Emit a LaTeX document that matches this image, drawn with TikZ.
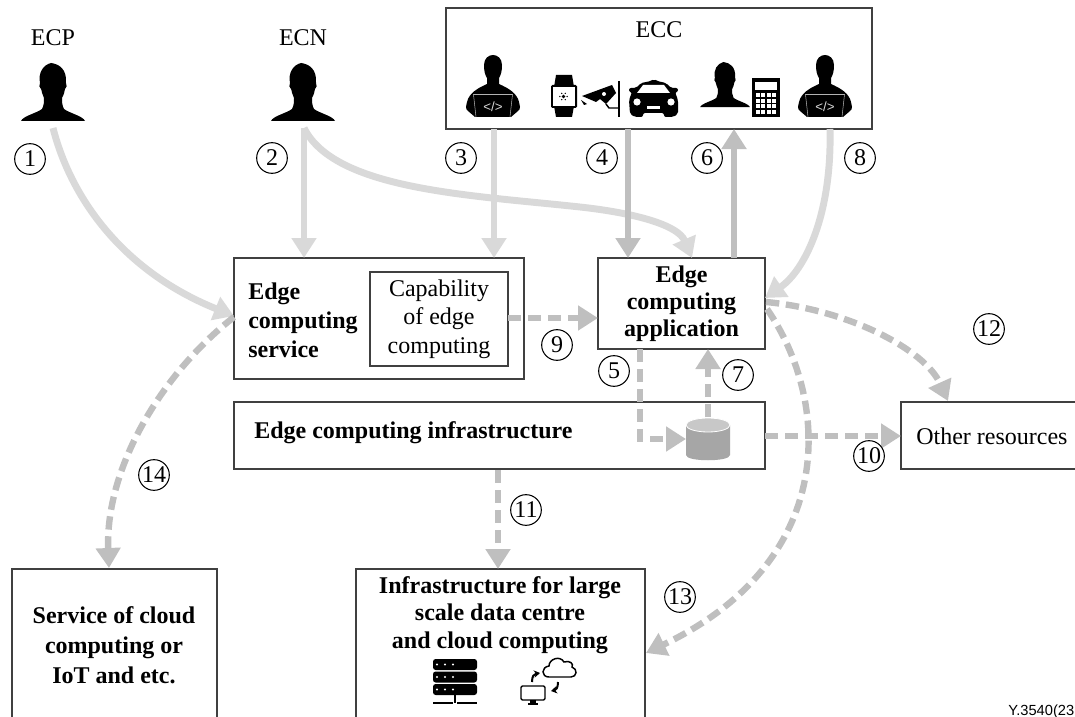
\documentclass[tikz,border=0pt]{standalone}
\usepackage{fontspec}
\setmainfont{Liberation Serif}
\newfontfamily\arialfont{Liberation Sans}
\usetikzlibrary{arrows.meta}
\definecolor{lightg}{HTML}{D9D9D9}
\definecolor{darkg}{HTML}{BFBFBF}
\definecolor{boxline}{HTML}{404040}
\tikzset{
  x=0.75pt,y=-0.75pt,
  box/.style={draw=boxline,line width=1.4pt,fill=white,inner sep=0pt,outer sep=0pt,anchor=north west},
  lab/.style={font=\fontsize{18}{21.5}\selectfont,inner sep=0pt,align=center},
  blab/.style={lab,font=\fontsize{18}{20.6}\selectfont\bfseries},
  num/.style={draw=black,circle,line width=0.8pt,minimum size=23pt,inner sep=0pt,fill=white,font=\fontsize{18}{18}\selectfont},
  la/.style={draw=lightg,line width=5.2pt,-{Triangle[length=15pt,width=18pt,fill=lightg]}},
  da/.style={draw=darkg,line width=5.2pt,-{Triangle[length=15pt,width=18pt,fill=darkg]}},
  dd/.style={draw=darkg,line width=4.8pt,dash pattern=on 10pt off 5pt,-{Triangle[length=15pt,width=18pt,fill=darkg]}},
  personicon/.pic={
    \fill[black] (-32,58) .. controls (-30,53) and (-16,50) .. (-11,46) .. controls (-9,42) and (-9,39) .. (-9,35)
      .. controls (-11,32) and (-11,28) .. (-12,26) .. controls (-14,25) and (-14,22) .. (-13,20)
      .. controls (-15,10) and (-10,2) .. (-2,0) .. controls (6,1) and (14,6) .. (13,20)
      .. controls (14,22) and (14,25) .. (12,26) .. controls (11,30) and (11,32) .. (9,35)
      .. controls (9,39) and (9,42) .. (11,46) .. controls (16,50) and (30,53) .. (32,58) -- cycle;
  },
  coder/.pic={
    \fill[black] (-18,62) -- (-25,56) .. controls (-28,54) and (-27,50) .. (-26,47) .. controls (-24,38) and (-15,33) .. (-6,29)
      -- (-6,23) .. controls (-8,20) and (-9,16) .. (-9,10)
      .. controls (-9,3) and (-4,0) .. (0,0) .. controls (4,0) and (9,3) .. (9,10) .. controls (9,16) and (8,20) .. (6,23)
      -- (6,29) .. controls (15,33) and (24,38) .. (26,47) .. controls (27,50) and (28,54) .. (25,56) -- (18,62) -- cycle;
    \draw[white!70!black,line width=0.4pt] (-17,62) -- (-19.5,39.5) -- (19.5,39.5) -- (17,62);
    \node[text=lightg,inner sep=0pt,font=\arialfont\fontsize{10}{10}\selectfont] at (0,52) {</>};
  }
}
\begin{document}
\begin{tikzpicture}
\useasboundingbox (0,0) rectangle (1075,717);
\clip (0,0) rectangle (1075,717);

% boxes
\node[box,minimum width=319.5pt,minimum height=90.75pt] (ecc) at (446,8) {};
\node[box,minimum width=217.5pt,minimum height=90.75pt] (svc) at (234,258) {};
\node[box,minimum width=103.5pt,minimum height=70.5pt,lab,anchor=north west] (cap) at (370,272) {Capability\\of edge\\computing};
\node[box,minimum width=125.25pt,minimum height=68.25pt,blab,font=\fontsize{18}{20.3}\selectfont\bfseries] (app) at (598,258) {Edge\\computing\\application};
\node[box,minimum width=398.25pt,minimum height=50.25pt] (inf) at (234,402) {};
\node[box,minimum width=150pt,minimum height=50.25pt] (oth) at (901,402) {};
\node[box,minimum width=153.75pt,minimum height=130pt] (cloud) at (12,569) {};
\node[box,minimum width=216.75pt,minimum height=130pt] (large) at (356,569) {};

% texts
\node[lab] (tecp) at (53,38) {ECP};
\node[lab] (tecn) at (303,38) {ECN};
\node[lab] (tecc) at (659,30) {ECC};
\node[blab,align=left,anchor=west,font=\fontsize{18}{21.75}\selectfont\bfseries] (tsvc) at (248,320) {Edge\\computing\\service};
\node[blab,anchor=west] (tinf) at (254,433) {Edge computing infrastructure};
\node[lab,anchor=west] (toth) at (916,436) {Other resources};
\node[blab,font=\fontsize{18}{22.5}\selectfont\bfseries] (tcloud) at (114,645) {Service of cloud\\computing or\\IoT and etc.};
\node[blab] (tlarge) at (500,615) {Infrastructure for large\\scale data centre\\and cloud computing};
\node[anchor=base east,inner sep=0pt,font=\arialfont\fontsize{11}{11}\selectfont] (tref) at (1074.5,715) {Y.3540(23};

% people
\pic at (53,63) {personicon};
\pic at (303,63) {personicon};
\pic at (493,55) {coder};
\pic at (825,55) {coder};
\pic[scale=0.78] at (725,62) {personicon};
\coordinate (ecp) at (53,128);
\coordinate (ecn) at (304,128);

% watch
\fill[black] (554,87) -- (556,75) -- (572,75) -- (574,87) -- cycle;
\fill[black] (554,106) -- (556,117) -- (572,117) -- (574,106) -- cycle;
\fill[black,rounded corners=1pt] (551,85) rectangle (577,108);
\fill[white] (553,87) rectangle (575,106);
\fill[black] (563.5,96.5) circle (1.8);
\foreach \a in {0,60,...,300}{\fill[black] (563.5,96.5) ++(\a:3.6) circle (0.8);}
% camera
\fill[black] (582,96) -- (612,85) -- (616,93) -- (606,104) -- (600,99) -- (596,102) -- cycle;
\fill[white] (604,94) circle (2);
\fill[black] (581,100) -- (587,104) -- (584,105) -- cycle;
\draw[black,line width=1.1pt] (606,104) -- (609,108) -- (619,108);
\draw[black,line width=2.2pt] (619,81) -- (619,117);
% car
\fill[black,rounded corners=1.5pt] (635,117) -- (630,114) -- (629,100) -- (632,92) -- (629,92) -- (629,88) -- (636,88) -- (641,83) -- (651,81) -- (654,79) -- (657,81) -- (666,83) -- (671,88) -- (678,88) -- (678,92) -- (675,92) -- (678,100) -- (678,114) -- (673,117) -- (664,117) -- (664,113) -- (643,113) -- (643,117) -- cycle;
\fill[white] (637,93) -- (643,85) -- (664,85) -- (670,93) -- cycle;
\fill[white] (637,102) circle (3.6);
\fill[white] (671,102) circle (3.6);
\fill[white] (647,106) rectangle (660,109);
% calculator
\fill[black] (752,78) rectangle (780,117);
\fill[white] (755,82) rectangle (777,90);
\foreach \i in {0,1,2,3}{\foreach \j in {0,1,2,3}{\fill[white] ({755.5+\i*5.6},{93+\j*5.6}) rectangle ({759.5+\i*5.6},{97+\j*5.6});}}
% server
\foreach \y in {659,671.5,684}{
  \fill[black,rounded corners=2pt] (433,\y) rectangle (477,{\y+11});
  \foreach \d in {0,8,16}{\fill[white] ({437+\d},{\y+5.5}) circle (1.2);}
}
\draw[black,line width=1pt] (455,694) -- (455,703);
\draw[black,line width=1.4pt] (433,703) -- (453,703) (457,703) -- (477,703);
% cloud + monitor
\draw[black,line width=1.1pt,fill=white] (549,677) .. controls (541,677) and (541,667) .. (549,666) .. controls (549,659) and (560,655) .. (564,662) .. controls (570,660) and (574,664) .. (572,667) .. controls (578,669) and (577,677) .. (571,677) -- cycle;
\draw[black,line width=1.1pt,rounded corners=1pt] (521,686) rectangle (545,700);
\fill[black] (530,700) rectangle (536,703);
\fill[black] (528,703) rectangle (538,704.5);
\draw[-{Stealth[length=4.5pt,width=5.5pt]},line width=1.5pt] (532,682) .. controls (532,676) and (534,674) .. (540,673);
\draw[-{Stealth[length=4.5pt,width=5.5pt]},line width=1.5pt] (558,682) .. controls (558,688) and (556,690) .. (551,691);

% database
\definecolor{dbbody}{HTML}{A6A6A6}
\definecolor{dbtopc}{HTML}{C8C8C8}
\coordinate (dbtop) at (708,417);
\path[fill=dbbody,draw=none] (686,425) -- (686,455) .. controls (686,462) and (730,462) .. (730,455) -- (730,425) -- cycle;
\fill[dbtopc,draw=white,line width=0.6pt] (708,425) ellipse (22 and 7);
\node[inner sep=0pt,minimum width=33pt,minimum height=32pt] (db) at (708,438) {};

% anchors for connectors
\coordinate (c3a) at (494,129);\coordinate (c3b) at (494,258);
\coordinate (c4a) at (628,129);\coordinate (c4b) at (628,258);
\coordinate (c6a) at (734,258);\coordinate (c6b) at (734,129);
\coordinate (c8a) at (830,129);\coordinate (c8b) at (765,298);
\coordinate (c2a) at (304,258);\coordinate (c2b) at (692,258);
\coordinate (c1b) at (234,316);
\coordinate (c14a) at (234,317);\coordinate (c14b) at (109,568);
\coordinate (c9a) at (508,318);\coordinate (c9b) at (598,318);
\coordinate (c5a) at (640,349);\coordinate (c5b) at (640,439);\coordinate (c5c) at (686,439);
\coordinate (c7b) at (708,349);
\coordinate (c10a) at (765,436);\coordinate (c10b) at (901,436);
\coordinate (c11a) at (498,470);\coordinate (c11b) at (498,569);
\coordinate (c12a) at (766,302);\coordinate (c12b) at (948,401);
\coordinate (c13a) at (767,309);\coordinate (c13b) at (646,653);

% connectors
\draw[la] (ecp) .. controls (70,195) and (120,270) .. (c1b);
\draw[la] (ecn) -- (c2a);
\draw[la] (ecn) .. controls (335,190) and (470,195) .. (580,207) .. controls (635,213) and (678,225) .. (c2b);
\draw[la] (c3a) -- (c3b);
\draw[da] (c4a) -- (c4b);
\draw[da] (c6a) -- (c6b);
\draw[la] (c8a) .. controls (832,215) and (805,270) .. (c8b);
\draw[dd] (c9a) -- (c9b);
\draw[dd] (c5a) -- (c5b) -- (c5c);
\draw[dd] (dbtop) -- (c7b);
\draw[dd] (c10a) -- (c10b);
\draw[dd] (c11a) -- (c11b);
\draw[dd] (c12a) .. controls (850,310) and (925,350) .. (c12b);
\draw[dd] (c13a) .. controls (830,400) and (840,560) .. (c13b);
\draw[dd] (c14a) .. controls (160,375) and (105,470) .. (c14b);

% numbers
\node[num] (n1) at (30,159) {1};
\node[num] (n2) at (272,158) {2};
\node[num] (n3) at (461,158) {3};
\node[num] (n4) at (602,158) {4};
\node[num] (n5) at (614,371) {5};
\node[num] (n6) at (707,158) {6};
\node[num] (n7) at (738,375) {7};
\node[num] (n8) at (860,158) {8};
\node[num] (n9) at (557,345) {9};
\node[num] (n10) at (869,456) {10};
\node[num] (n11) at (526,510) {11};
\node[num] (n12) at (989,329) {12};
\node[num] (n13) at (680,597) {13};
\node[num] (n14) at (154,475) {14};
\end{tikzpicture}
\end{document}
